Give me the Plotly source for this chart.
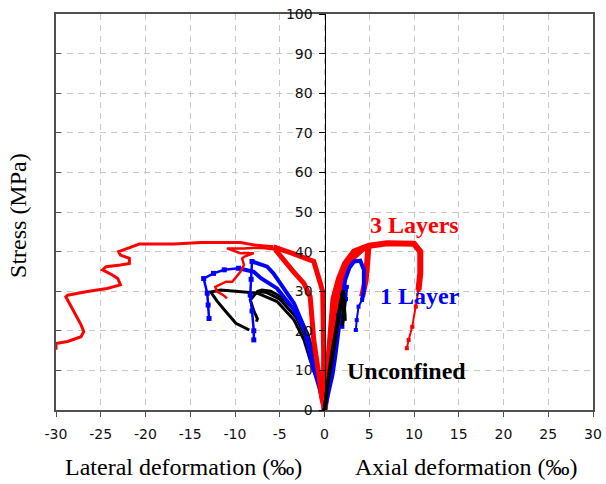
import plotly.graph_objects as go

# ---- axis ticks ----
x_tick_vals = [-30, -25, -20, -15, -10, -5, 0, 5, 10, 15, 20, 25, 30]
x_tick_text = ["-30", "-25", "-20", "-15", "-10", "-5", "0", "5", "10", "15", "20", "25", "30"]

# ---- 3 Layers (red) ----
r1_lat_x = [0, -0.1, -0.1, -0.1, -0.2, -0.6, -1.2, -3.5, -5.7]
r1_lat_y = [0, 5, 15, 25, 29.9, 33, 37.5, 39.5, 41.2]
r1_post_x = [-5.7, -7.9, -9.4, -13.8, -16.8, -20.7, -22.0, -23.0, -22.8, -21.8, -21.8, -22.8, -24.4, -24.8,
             -23.7, -23.1, -22.8, -24.3, -26.5, -28.7, -28.9, -27.2, -26.9, -27.2, -28.7, -30.0, -30.0]
r1_post_y = [41.2, 41.7, 42.3, 42.3, 41.9, 41.9, 40.8, 40.0, 39.1, 38.3, 37.0, 36.6, 36.2, 35.4,
             34.1, 33.2, 31.6, 30.7, 29.9, 29.0, 28.6, 21.5, 19.8, 18.5, 17.3, 16.8, 15.2]
r2_lat_x = [0, -0.3, -0.6, -1.2, -1.6, -2.3, -3.5, -5.5]
r2_lat_y = [0, 3, 8.4, 17.7, 28.6, 32.0, 35.0, 40.5]
r2_post_x = [-5.5, -7.1, -9.0, -10.9, -9.4, -7.9, -9.0, -9.2, -9.0, -9.4, -10.3, -11.0, -12.2, -12.0, -11.3, -10.9]
r2_post_y = [40.5, 41.0, 40.8, 40.8, 39.6, 39.6, 38.7, 38.3, 36.6, 34.9, 32.4, 32.4, 31.1, 29.9, 29.0, 28.2]
r1_ax_x = [0, 0.3, 0.6, 1.0, 1.6, 2.3, 3.3, 5.0, 7.0, 10.0, 10.7, 10.7, 10.5]
r1_ax_y = [0, 10, 20, 28, 33, 37, 40, 41.5, 42.1, 42.0, 40.0, 34.5, 30.3]
r1_axpost_x = [10.5, 10.2, 9.8, 9.4, 9.2]
r1_axpost_y = [30.3, 26.1, 21.0, 17.7, 15.6]
r2_ax_x = [0, 0.6, 1.0, 1.5, 2.2, 3.2, 4.3, 4.9, 4.8, 4.6, 4.2]
r2_ax_y = [0, 10, 20, 28, 34, 38.5, 40.8, 41.2, 38, 32.8, 28.6]

# ---- 1 Layer (blue) ----
b1_lat_x = [0, -0.4, -1.2, -1.9, -3.4, -5.3, -7.1, -7.9, -9.6]
b1_lat_y = [0, 5.9, 10.1, 18.5, 25.3, 30.7, 33.3, 34.9, 35.8]
b1_post_x = [-9.6, -11.2, -12.4, -13.5, -13.1, -13.0, -12.9]
b1_post_y = [35.8, 35.4, 34.5, 33.2, 29.5, 26.5, 23.1]
b2_lat_x = [0, -0.6, -1.4, -2.3, -3.4, -4.9, -5.7, -6.4, -7.5, -8.1]
b2_lat_y = [0, 5.9, 11.8, 21.0, 26.9, 32.0, 34.5, 36.2, 37.0, 37.5]
b2_post_x = [-8.1, -8.2, -8.3, -8.1, -7.9, -7.9]
b2_post_y = [37.5, 33, 29, 25, 20, 17.7]
b1_ax_x = [0, 0.5, 0.9, 1.2, 1.5, 1.8, 2.1, 2.3, 2.8, 3.3, 4.0, 4.4, 4.4, 4.2]
b1_ax_y = [0, 5, 9, 13.5, 19, 24.4, 29, 32.8, 36, 37.5, 37.7, 35.4, 30.3, 27.8]
b1_axpost_x = [4.2, 3.8, 3.6, 3.5]
b1_axpost_y = [27.8, 26.1, 22.7, 20.2]
b2_ax_x = [0, 0.5, 1.0, 1.5, 2.0, 2.5, 2.4, 2.2, 2.0]
b2_ax_y = [0, 8, 16, 24, 29.5, 31.1, 28, 24, 21.0]

# ---- Unconfined (black) ----
k1_lat_x = [0, -0.8, -1.6, -2.3, -3.4, -5.3, -7.5, -9.4, -11.6, -12.7, -12.0, -11.2, -9.9, -8.4]
k1_lat_y = [0, 7.6, 12.6, 17.7, 22.7, 27.4, 29.5, 29.9, 30.3, 29.8, 27.5, 25.3, 21.9, 20.2]
k2_lat_x = [0, -0.3, -1.2, -1.9, -3.0, -4.9, -6.0, -7.0, -7.5, -8.3, -7.9, -7.5, -7.6]
k2_lat_y = [0, 5.1, 14.3, 19.4, 24.4, 28.6, 30.0, 30.3, 29.9, 27.8, 25.0, 23.1, 22.3]
k3_lat_x = [0, -0.5, -1.4, -2.1, -3.2, -5.0, -6.5, -7.5]
k3_lat_y = [0, 6, 13, 18.5, 23.5, 28, 29.7, 30.0]
k1_ax_x = [0, 0.3, 0.8, 1.3, 1.8, 2.1, 2.2, 2.1, 2.0]
k1_ax_y = [0, 6, 14, 21, 27, 30.3, 27, 24, 21.3]
k2_ax_x = [0, 0.4, 1.0, 1.5, 1.9, 2.0, 2.2, 2.3]
k2_ax_y = [0, 7, 15, 22, 27.5, 29.5, 26, 22.5]

RED, BLUE, BLACK = "#ff0000", "#0000ff", "#000000"

fig = go.Figure()


def curve(x, y, color, width, marker_size=0, yaxis="y"):
    mode = "lines+markers" if marker_size else "lines"
    fig.add_trace(go.Scatter(
        x=x, y=y, mode=mode, line=dict(color=color, width=width),
        marker=dict(color=color, size=marker_size, symbol="square"),
        showlegend=False, hoverinfo="skip", yaxis=yaxis))


# lateral side (left): black under blue under red
curve(k1_lat_x, k1_lat_y, BLACK, 3)
curve(k2_lat_x, k2_lat_y, BLACK, 3)
curve(k3_lat_x, k3_lat_y, BLACK, 3)
curve(b1_post_x, b1_post_y, BLUE, 2.5, 5)
curve(b2_post_x, b2_post_y, BLUE, 2.5, 5)
curve(b1_lat_x, b1_lat_y, BLUE, 4)
curve(b2_lat_x, b2_lat_y, BLUE, 4)
curve(r1_post_x, r1_post_y, RED, 3)
curve(r2_post_x, r2_post_y, RED, 2.5)
curve(r1_lat_x, r1_lat_y, RED, 5)
curve(r2_lat_x, r2_lat_y, RED, 5)

# axial side (right), plotted against the centre stress axis: red under blue under black
curve(r1_axpost_x, r1_axpost_y, RED, 2, 4, "y2")
curve(r1_ax_x, r1_ax_y, RED, 6, 0, "y2")
curve(r2_ax_x, r2_ax_y, RED, 6, 0, "y2")
curve(b1_axpost_x, b1_axpost_y, BLUE, 2, 4, "y2")
curve(b1_ax_x, b1_ax_y, BLUE, 4, 0, "y2")
curve(b2_ax_x, b2_ax_y, BLUE, 2.5, 4, "y2")
curve(k1_ax_x, k1_ax_y, BLACK, 3.5, 0, "y2")
curve(k2_ax_x, k2_ax_y, BLACK, 3.5, 0, "y2")

GRID = "#c8c8c8"
FRAME = "#505050"
tick_font = dict(family="DejaVu Sans", size=14, color="#111111")

fig.update_layout(
    width=606, height=484,
    margin=dict(l=56, r=13, t=14, b=74, autoexpand=False),
    paper_bgcolor="white", plot_bgcolor="white",
    xaxis=dict(range=[-30, 30], tickmode="array", tickvals=x_tick_vals, ticktext=x_tick_text,
               ticks="outside", ticklen=5,
               tickcolor=FRAME, showline=True, linecolor=FRAME, linewidth=1.5,
               mirror=True, showgrid=True, gridcolor=GRID, griddash="6px,5px",
               zeroline=False, tickfont=tick_font, ticklabelstandoff=5,
               automargin=False),
    yaxis=dict(range=[0, 100], dtick=10, ticks="inside", ticklen=5, tickcolor=FRAME,
               showticklabels=False, showline=True, linecolor=FRAME, linewidth=1.5,
               mirror=True, showgrid=True, gridcolor=GRID, griddash="6px,5px",
               zeroline=False, automargin=False),
    yaxis2=dict(range=[0, 100], dtick=10, overlaying="y", anchor="free", position=0.5,
                side="left", ticks="outside", ticklen=6, tickcolor="black",
                showline=True, linecolor="black", linewidth=1, showgrid=False,
                zeroline=False, tickfont=tick_font, ticklabelstandoff=3,
                automargin=False),
)

serif = "Liberation Serif, Times New Roman"
fig.add_annotation(text="Stress (MPa)", xref="paper", yref="paper", x=0, y=0.49,
                   xshift=-38, xanchor="center", yanchor="middle", textangle=-90,
                   showarrow=False, font=dict(family=serif, size=24, color="black"))
fig.add_annotation(text="Lateral deformation (‰)", xref="paper", yref="paper",
                   x=(183 - 56) / 537, y=0, yshift=-57, xanchor="center", yanchor="middle",
                   showarrow=False, font=dict(family=serif, size=24, color="black"))
fig.add_annotation(text="Axial deformation (‰)", xref="paper", yref="paper",
                   x=(466 - 56) / 537, y=0, yshift=-57, xanchor="center", yanchor="middle",
                   showarrow=False, font=dict(family=serif, size=24, color="black"))

fig.add_annotation(text="<b>3 Layers</b>", x=10.0, y=46.7, showarrow=False,
                   font=dict(family=serif, size=24, color=RED))
fig.add_annotation(text="<b>1 Layer</b>", x=10.7, y=28.8, showarrow=False,
                   font=dict(family=serif, size=24, color=BLUE))
fig.add_annotation(text="<b>Unconfined</b>", x=9.15, y=9.8, showarrow=False,
                   font=dict(family=serif, size=24, color=BLACK))

fig.write_html("out.html")
